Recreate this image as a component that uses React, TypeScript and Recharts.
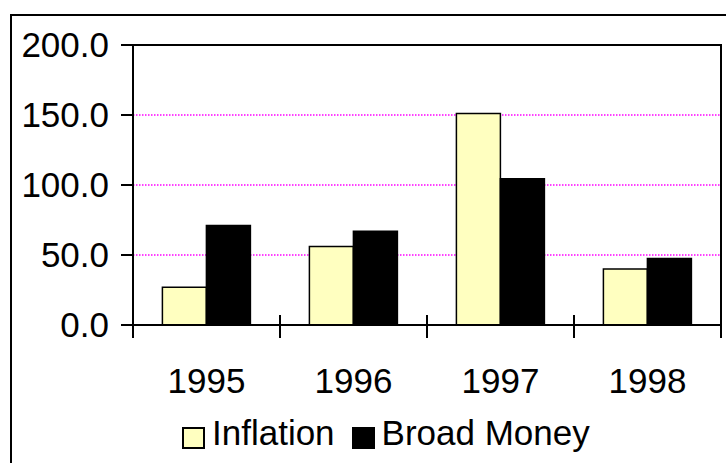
import React from 'react';
import { BarChart, Bar, XAxis, YAxis, CartesianGrid, ReferenceArea, Legend } from 'recharts';

const years = ['1995', '1996', '1997', '1998'];
const inflation = [27, 56, 151, 40];
const broadMoney = [71, 67, 104.5, 47.5];
const yTicks = [0, 50, 100, 150, 200];
const seriesNames = ['Inflation', 'Broad Money'];
const seriesColors = ['#FFFFC0', '#000000'];

const data = years.map((year, i) => ({ year, inflation: inflation[i], broadMoney: broadMoney[i] }));

const FONT = '"Liberation Sans", Arial, sans-serif';

const YearTick = (props: any) => {
  const { x, y, payload, width, visibleTicksCount, index } = props;
  const band = Number(width) / Number(visibleTicksCount || 1);
  const half = band / 2;
  return (
    <g>
      <line x1={x - half} x2={x - half} y1={y - 10} y2={y + 13} stroke="#000" strokeWidth={2} />
      {index === visibleTicksCount - 1 && (
        <line x1={x + half} x2={x + half} y1={y - 10} y2={y + 13} stroke="#000" strokeWidth={2} />
      )}
      <text x={x} y={y + 68} textAnchor="middle" fontSize={35} fontFamily={FONT} fill="#000">
        {payload.value}
      </text>
    </g>
  );
};

const LegendContent = () => (
  <div style={{ display: 'flex', alignItems: 'flex-start', fontFamily: FONT, fontSize: 35, lineHeight: '40px', color: '#000' }}>
    {seriesNames.map((name, i) => (
      <div key={name} style={{ display: 'flex', alignItems: 'flex-start', marginLeft: i === 0 ? 0 : 17 }}>
        <span
          style={{
            display: 'inline-block',
            boxSizing: 'border-box',
            width: 23,
            height: 22,
            marginTop: 14,
            background: seriesColors[i],
            border: '2px solid #000',
          }}
        />
        <span style={{ marginLeft: 7, whiteSpace: 'nowrap' }}>{name}</span>
      </div>
    ))}
  </div>
);

export default function App() {
  return (
    <div style={{ position: 'absolute', left: 0, top: 0, width: 726, height: 463, overflow: 'hidden', background: '#fff' }}>
      <div
        style={{
          position: 'absolute',
          left: 10,
          top: 14,
          width: 800,
          height: 500,
          border: '2px solid #000',
        }}
      />
      <BarChart
        width={726}
        height={463}
        data={data}
        margin={{ top: 45, right: 5, left: 0, bottom: 78 }}
        barCategoryGap="20%"
        barGap={0}
      >
        <CartesianGrid vertical={false} stroke="#FF00FF" strokeDasharray="1.5 1.5" strokeWidth={1.5} />
        <XAxis
          dataKey="year"
          interval={0}
          tickLine={false}
          tickSize={0}
          tickMargin={0}
          height={60}
          axisLine={{ stroke: '#000', strokeWidth: 2 }}
          tick={<YearTick />}
        />
        <YAxis
          domain={[0, 200]}
          ticks={yTicks}
          width={133}
          tickSize={12}
          tickMargin={12}
          tickFormatter={(v: number) => v.toFixed(1)}
          tick={{ fontSize: 35, fill: '#000', fontFamily: FONT }}
          tickLine={{ stroke: '#000', strokeWidth: 2 }}
          axisLine={{ stroke: '#000', strokeWidth: 2 }}
        />
        <ReferenceArea y1={0} y2={200} fill="none" stroke="#000" strokeWidth={2} />
        <Bar dataKey="inflation" name={seriesNames[0]} fill={seriesColors[0]} stroke="#000" strokeWidth={1.5} isAnimationActive={false} />
        <Bar dataKey="broadMoney" name={seriesNames[1]} fill={seriesColors[1]} stroke="#000" strokeWidth={1.5} isAnimationActive={false} />
        <Legend
          layout="horizontal"
          verticalAlign="middle"
          align="center"
          wrapperStyle={{ left: 182, top: 413, width: 500, height: 45 }}
          content={<LegendContent />}
        />
      </BarChart>
    </div>
  );
}
